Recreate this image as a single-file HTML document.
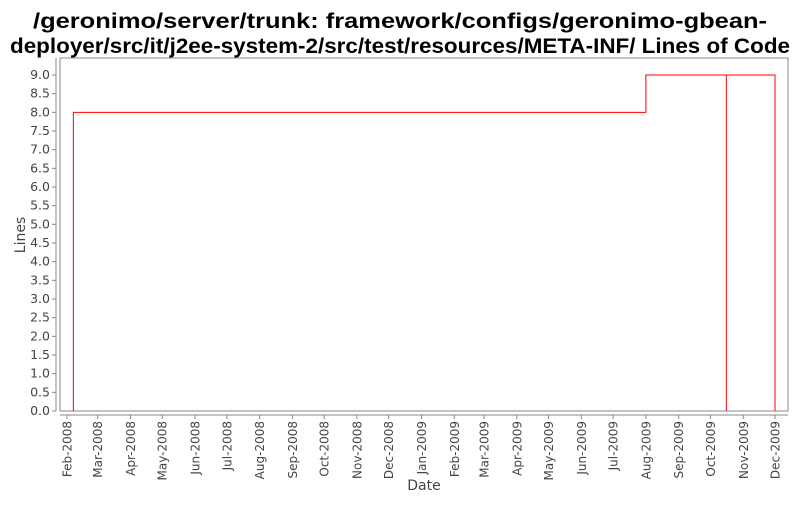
<!DOCTYPE html>
<html><head><meta charset="utf-8"><style>
body{margin:0;background:#fff;width:800px;height:500px;overflow:hidden;font-family:"Liberation Sans",sans-serif}
</style></head><body>
<svg width="800" height="500" xmlns="http://www.w3.org/2000/svg">
<text x="400" y="28" text-anchor="middle" font-size="21" font-weight="bold" font-family="Liberation Sans, sans-serif" fill="#000" textLength="734" lengthAdjust="spacingAndGlyphs">/geronimo/server/trunk: framework/configs/geronimo-gbean-</text>
<text x="400" y="53" text-anchor="middle" font-size="21" font-weight="bold" font-family="Liberation Sans, sans-serif" fill="#000" textLength="780" lengthAdjust="spacingAndGlyphs">deployer/src/it/j2ee-system-2/src/test/resources/META-INF/ Lines of Code</text>
<rect x="60" y="58" width="728" height="353" fill="#fff" stroke="#888"/>
<g id="yaxis"></g><g id="xaxis"></g><g id="series"></g>
<text transform="translate(25,235) rotate(-90)" text-anchor="middle" font-size="14" fill="#444" font-family="DejaVu Sans, sans-serif">Lines</text>
<text x="424" y="490" text-anchor="middle" font-size="14" fill="#444" font-family="DejaVu Sans, sans-serif">Date</text>
</svg>
<script>
const yTicks=[0,0.5,1,1.5,2,2.5,3,3.5,4,4.5,5,5.5,6,6.5,7,7.5,8,8.5,9];
const xTickLabels=["Feb-2008","Mar-2008","Apr-2008","May-2008","Jun-2008","Jul-2008","Aug-2008","Sep-2008","Oct-2008","Nov-2008","Dec-2008","Jan-2009","Feb-2009","Mar-2009","Apr-2009","May-2009","Jun-2009","Jul-2009","Aug-2009","Sep-2009","Oct-2009","Nov-2009","Dec-2009"];
const dates=["2008-02-07","2008-02-07","2009-08-01","2009-10-16","2009-10-16","2009-12-01"];
const values=[0,8,9,0,9,0];
const NS="http://www.w3.org/2000/svg";
const t0=Date.UTC(2008,1,1),t1=Date.UTC(2009,11,1);
function x(t){return 67+(t-t0)/(t1-t0)*708;}
function y(v){return 411-v*(336/9);}
function mk(tag,attrs,parent){const e=document.createElementNS(NS,tag);for(const k in attrs)e.setAttribute(k,attrs[k]);document.getElementById(parent).appendChild(e);return e;}
mk("line",{x1:56,y1:58,x2:56,y2:411,stroke:"#888"},"yaxis");
yTicks.forEach(v=>{
 const l=mk("line",{x1:52,x2:56,y1:y(v),y2:y(v),stroke:"#888"},"yaxis");
 
 
 const t=mk("text",{x:50,y:y(v)+4,"text-anchor":"end","font-size":"12.5",fill:"#444","font-family":"DejaVu Sans, sans-serif"},"yaxis");
 t.textContent=v.toFixed(1);
 
 
});
mk("line",{x1:60,y1:415,x2:788,y2:415,stroke:"#888"},"xaxis");
xTickLabels.forEach((s,i)=>{
 const d=Date.UTC(2008,1+i,1);const xx=x(d);
 const l=mk("line",{x1:xx,x2:xx,y1:415,y2:419,stroke:"#888"},"xaxis");
 
 
 const t=mk("text",{transform:`translate(${xx+4.5},421) rotate(-90)`,"text-anchor":"end","font-size":"12",fill:"#444","font-family":"DejaVu Sans, sans-serif"},"xaxis");
 t.textContent=s;
 
 
});
let d="";
dates.forEach((s,i)=>{const p=s.split("-");const xx=x(Date.UTC(+p[0],+p[1]-1,+p[2]));
 if(i===0)d+=`M${xx},${y(values[0])}`;else d+=` H${xx} V${y(values[i])}`;});
const path=mk("path",{d:d,fill:"none",stroke:"#ff0000","stroke-width":1},"series");


</script>
</body></html>
